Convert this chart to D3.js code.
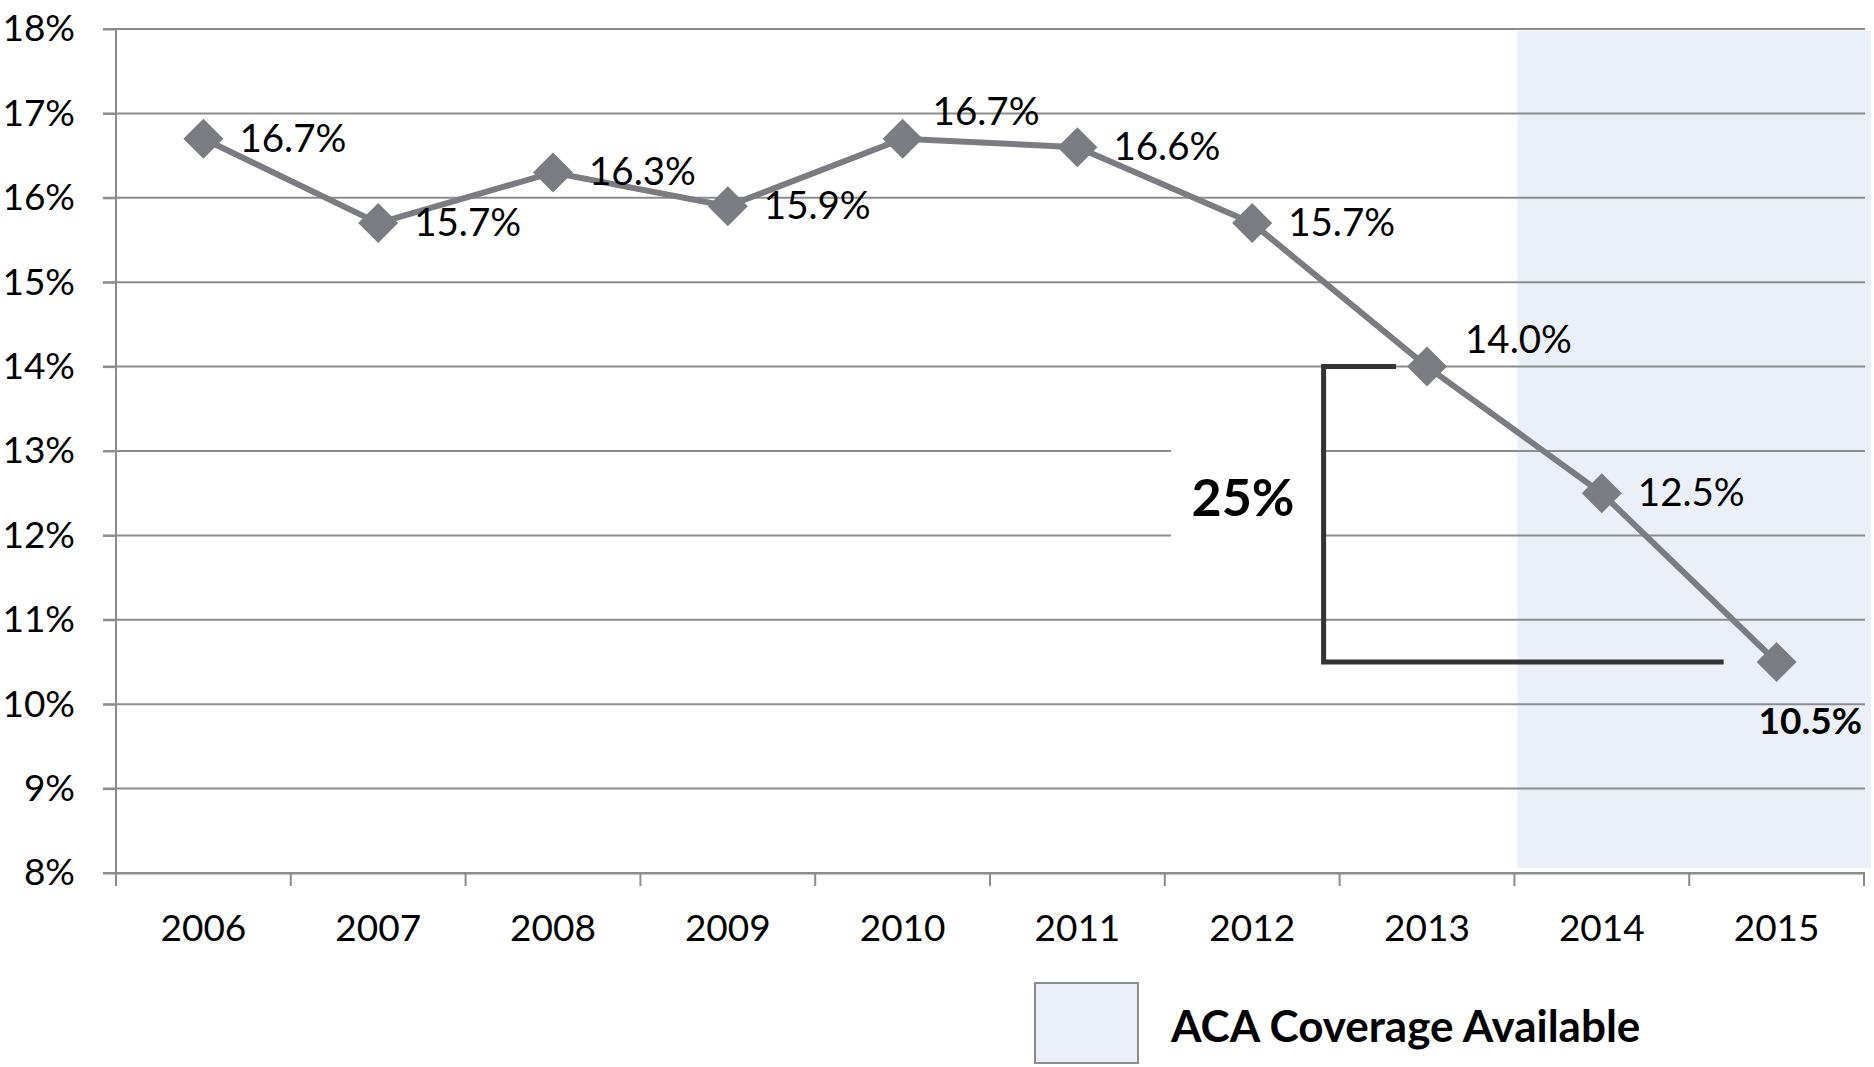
<!DOCTYPE html>
<html>
<head>
<meta charset="utf-8">
<script src="https://cdn.jsdelivr.net/npm/d3@7"></script>
<style>
  body { margin: 0; background: #fff; }
  text { font-family: Lato, "Open Sans", sans-serif; }
</style>
</head>
<body>
<svg width="1874" height="1067"></svg>
<script>
// data
const years = ["2006", "2007", "2008", "2009", "2010", "2011", "2012", "2013", "2014", "2015"];
const rates = [16.7, 15.7, 16.3, 15.9, 16.7, 16.6, 15.7, 14.0, 12.5, 10.5];
const yTicks = [8, 9, 10, 11, 12, 13, 14, 15, 16, 17, 18];
const acaYears = ["2014", "2015"];
const dropFrom = 14.0, dropTo = 10.5, dropLabel = "25%";
const legendLabel = "ACA Coverage Available";

const svg = d3.select("svg");

const lineGrey = "#7b7c81";
const gridGrey = "#8c8c8c";
const shade = "#ebf0f8";

const x = d3.scaleBand().domain(years).range([116, 1864]);
const y = d3.scaleLinear().domain([8, 18]).range([873, 29]);
const cx = d => x(d) + x.bandwidth() / 2;

// ACA shaded area
svg.append("rect")
  .attr("x", x(acaYears[0]) + 3)
  .attr("y", y(18) + 2)
  .attr("width", 1871 - x(acaYears[0]) - 3)
  .attr("height", y(8) - y(18) - 7)
  .attr("fill", shade);

// gridlines
svg.append("g").selectAll("line")
  .data(yTicks)
  .enter().append("line")
  .attr("x1", 103)
  .attr("x2", 1865)
  .attr("y1", d => y(d))
  .attr("y2", d => y(d))
  .attr("stroke", gridGrey)
  .attr("stroke-width", 2);

// y axis
const yAxis = svg.append("g")
  .attr("transform", "translate(116,0)")
  .call(d3.axisLeft(y).tickValues(yTicks).tickSize(13).tickPadding(28).tickFormat(d => d + "%"));
yAxis.select(".domain").remove();
yAxis.selectAll(".tick line").attr("stroke", gridGrey).attr("stroke-width", 2);
yAxis.selectAll(".tick text")
  .attr("font-size", 37)
  .attr("fill", "#000")
  .style("font-family", "Lato, sans-serif");
svg.append("line")
  .attr("x1", 116).attr("x2", 116)
  .attr("y1", y(18)).attr("y2", y(8) + 13)
  .attr("stroke", gridGrey).attr("stroke-width", 2);

// x axis
const xAxis = svg.append("g")
  .attr("transform", `translate(0,${y(8)})`)
  .call(d3.axisBottom(x).tickSize(0).tickPadding(42));
xAxis.select(".domain").attr("stroke", gridGrey).attr("stroke-width", 2);
xAxis.selectAll(".tick text")
  .attr("font-size", 37)
  .attr("fill", "#000")
  .style("font-family", "Lato, sans-serif");
svg.append("g").selectAll("line")
  .data(years.concat(["end"]))
  .enter().append("line")
  .attr("x1", (d, i) => i < years.length ? x(d) : x.range()[1])
  .attr("x2", (d, i) => i < years.length ? x(d) : x.range()[1])
  .attr("y1", y(8))
  .attr("y2", y(8) + 13)
  .attr("stroke", gridGrey)
  .attr("stroke-width", 2);

// 25% bracket
const bx = x("2013") - 16;
svg.append("rect")
  .attr("x", 1171)
  .attr("y", y(13.5))
  .attr("width", bx - 1171 - 2)
  .attr("height", y(11.5) - y(13.5))
  .attr("fill", "#fff");
svg.append("path")
  .attr("d", `M${cx("2013") - 31},${y(dropFrom)} H${bx} V${y(dropTo)} H${cx("2015") - 53}`)
  .attr("fill", "none")
  .attr("stroke", "#333")
  .attr("stroke-width", 5);
svg.append("text")
  .attr("x", 1243)
  .attr("y", (y(dropFrom) + y(dropTo)) / 2 + 2)
  .attr("text-anchor", "middle")
  .attr("font-size", 52)
  .attr("font-weight", "bold")
  .attr("fill", "#000")
  .text(dropLabel);

// line + markers
const pts = years.map((d, i) => ({ year: d, value: rates[i] }));
svg.append("path")
  .datum(pts)
  .attr("d", d3.line().x(d => cx(d.year)).y(d => y(d.value)))
  .attr("fill", "none")
  .attr("stroke", lineGrey)
  .attr("stroke-width", 6);

svg.append("g").selectAll("path")
  .data(pts)
  .enter().append("path")
  .attr("transform", d => `translate(${cx(d.year)},${y(d.value)})`)
  .attr("d", "M0,-20 L20,0 L0,20 L-20,0 Z")
  .attr("fill", lineGrey);

// value labels
function labelPos(d, i) {
  if (i === years.length - 1) return [-18, 72];
  if (d.year === "2010") return [30, -14];
  if (d.year === "2013") return [38, -14];
  return [36, 13];
}
svg.append("g").selectAll("text")
  .data(pts)
  .enter().append("text")
  .attr("x", (d, i) => cx(d.year) + labelPos(d, i)[0])
  .attr("y", (d, i) => y(d.value) + labelPos(d, i)[1])
  .attr("font-size", (d, i) => i === years.length - 1 ? 37 : 38.5)
  .attr("font-weight", (d, i) => i === years.length - 1 ? "bold" : "normal")
  .attr("fill", "#000")
  .text(d => d.value.toFixed(1) + "%");

// legend
svg.append("rect")
  .attr("x", 1035)
  .attr("y", 983)
  .attr("width", 103)
  .attr("height", 80)
  .attr("fill", shade)
  .attr("stroke", gridGrey)
  .attr("stroke-width", 2);
svg.append("text")
  .attr("x", 1171)
  .attr("y", 1042)
  .attr("font-size", 44)
  .attr("font-weight", "bold")
  .attr("fill", "#000")
  .text(legendLabel);
</script>
</body>
</html>
